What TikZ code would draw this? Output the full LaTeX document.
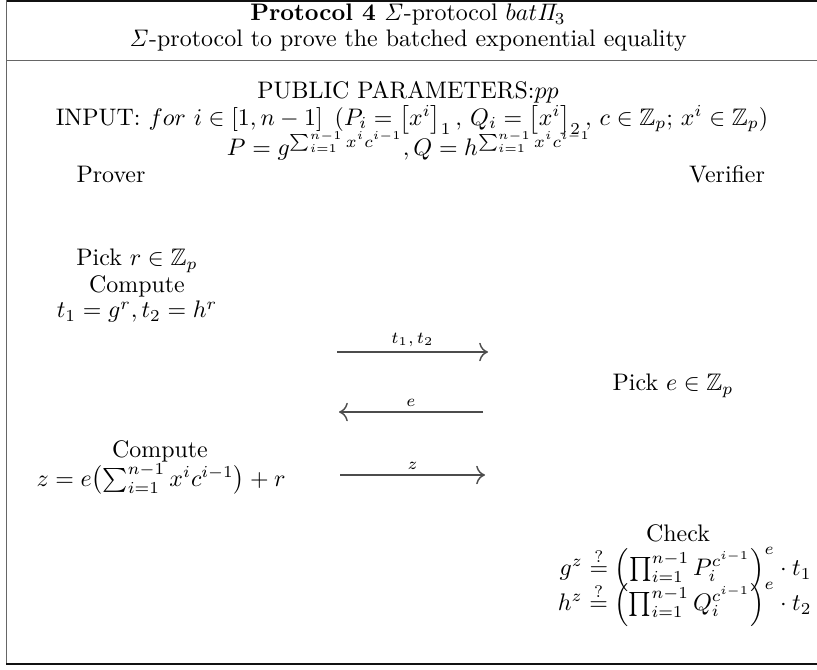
\documentclass[tikz,border=0pt]{standalone}
\usepackage{amsmath,amssymb}
\usepackage{xcolor}
\usepackage{tikz}
\usetikzlibrary{arrows.meta}
\definecolor{rulec}{HTML}{111111}
\definecolor{framec}{HTML}{666666}
\tikzset{
  msg/.style={-{To[length=1.3mm]},semithick,black!70},
  lbl/.style={font=\scriptsize,above,inner sep=2pt,black},
  txt/.style={align=center,inner sep=0pt}
}
\begin{document}
\begin{tikzpicture}[x=0.0147cm,y=-0.0147cm]
\useasboundingbox (0,0) rectangle (817,669);
% frame of the float
\draw[rulec,line width=0.9pt] (6,1)--(817,1);
\draw[framec,thin] (6,0)--(6,664);
\draw[framec,thin] (6,60)--(817,60);
\draw[rulec,line width=0.8pt] (6,664)--(817,664);
% caption
\node[txt] (cap) at (408,15) {\textbf{Protocol 4} $\mathit{\Sigma}$-protocol $bat\mathit{\Pi}_3$};
\node[txt] (sub) at (408,41) {$\mathit{\Sigma}$-protocol to prove the batched exponential equality};
% public part
\node[txt] (pub) at (408,92) {PUBLIC PARAMETERS:$pp$};
\node[txt] (inp) at (412,120) {INPUT: $for\ i\in[1,n-1]\ \,(P_i=\left[x^i\right]_1,\,Q_i=\left[x^i\right]_2,\,c\in\mathbb{Z}_p;\,x^i\in\mathbb{Z}_p)$};
\node[txt] (pq) at (409,146) {$P=g^{\sum_{i=1}^{n-1}x^ic^{i-1}},Q=h^{\sum_{i=1}^{n-1}x^ic^{i-1}}$};
\node[txt] (prv) at (111,174) {Prover};
\node[txt] (ver) at (727,174) {Verifier};
% prover, first move
\node[txt] (pick) at (137,261) {Pick $r\in\mathbb{Z}_p$};
\node[txt] (cmp) at (137,286) {Compute};
\node[txt] (com) at (137,312) {$t_1=g^r,t_2=h^r$};
% verifier challenge
\node[txt] (chl) at (673,386) {Pick $e\in\mathbb{Z}_p$};
% prover response
\node[txt] (cmpb) at (160,451) {Compute};
\node[txt] (rsp) at (161,479) {$z=e\bigl(\sum_{i=1}^{n-1}x^ic^{i-1}\bigr)+r$};
% verifier check
\node[txt] (chk) at (678,533) {Check};
\node[txt,anchor=east] (chka) at (812,569) {$g^z\stackrel{?}{=}\Bigl(\prod_{i=1}^{n-1}P_i^{c^{i-1}}\Bigr)^e\cdot t_1$};
\node[txt,anchor=east] (chkb) at (812,604) {$h^z\stackrel{?}{=}\Bigl(\prod_{i=1}^{n-1}Q_i^{c^{i-1}}\Bigr)^e\cdot t_2$};
% messages
\coordinate (ma) at (337,352);
\coordinate (mb) at (488,352);
\coordinate (na) at (483,412);
\coordinate (nb) at (339,412);
\coordinate (oa) at (340,475);
\coordinate (ob) at (485,475);
\draw[msg] (ma)--node[lbl]{$t_1,t_2$}(mb);
\draw[msg] (na)--node[lbl]{$e$}(nb);
\draw[msg] (oa)--node[lbl]{$z$}(ob);
\end{tikzpicture}
\end{document}
